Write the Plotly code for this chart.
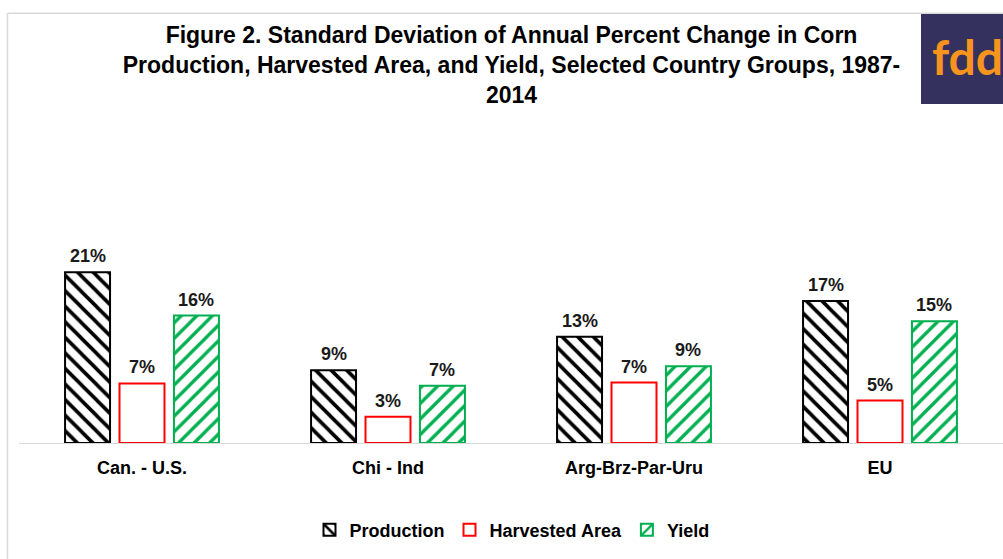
import plotly.graph_objects as go

categories = ["Can. - U.S.", "Chi - Ind", "Arg-Brz-Par-Uru", "EU"]
production = [20.9, 8.9, 13.0, 17.4]
harvested = [7.3, 3.2, 7.4, 5.2]
yield_vals = [15.6, 7.0, 9.4, 14.9]
series_names = ["Production", "Harvested Area", "Yield"]

W, H = 1003, 559
ML, MR, MT, MB = 19, 0, 197.5, 115.5
PW = W - ML - MR
PH = H - MT - MB
BARGAP = 0.336
BARGROUPGAP = 0.174

FONT = "Liberation Sans, Arial, sans-serif"

fig = go.Figure()
fig.add_trace(go.Bar(
    x=categories, y=production, name=series_names[0],
    marker=dict(color="white", line=dict(color="black", width=2),
                pattern=dict(shape="\\", fgcolor="black", bgcolor="white", fgopacity=1,
                             size=11, solidity=0.33)),
))
fig.add_trace(go.Bar(
    x=categories, y=harvested, name=series_names[1],
    marker=dict(color="white", line=dict(color="#FF0000", width=2)),
))
fig.add_trace(go.Bar(
    x=categories, y=yield_vals, name=series_names[2],
    marker=dict(color="white", line=dict(color="#00B050", width=2),
                pattern=dict(shape="/", fgcolor="#00B050", bgcolor="white", fgopacity=1,
                             size=11, solidity=0.3)),
))

# data labels
cat_px = PW / len(categories)
slot_px = cat_px * (1 - BARGAP) / 3
annotations = []
for si, vals in enumerate([production, harvested, yield_vals]):
    for c, v in zip(categories, vals):
        annotations.append(dict(
            x=c, y=v, xref="x", yref="y", text=f"{v:.0f}%", showarrow=False,
            xshift=(si - 1) * slot_px, yshift=4, yanchor="bottom",
            font=dict(family=FONT, size=18, color="#1a1a1a", weight="bold"),
        ))

def px2x(px):
    return (px - ML) / PW

def py2y(py):
    return (H - MB - py) / PH

# logo
annotations.append(dict(
    x=px2x(930), y=py2y(55), xref="paper", yref="paper", text="fdd", showarrow=False,
    xanchor="left", yanchor="middle",
    font=dict(family="Lato, Open Sans, sans-serif", size=48, color="#F7941D", weight="bold"),
))

shapes = [
    dict(type="rect", xref="paper", yref="paper", x0=px2x(921), x1=px2x(1010),
         y0=py2y(103), y1=py2y(12), fillcolor="#35315F", line=dict(width=0), layer="below"),
    dict(type="line", xref="paper", yref="paper", x0=px2x(7.5), x1=px2x(7.5),
         y0=py2y(12), y1=py2y(580), line=dict(color="#D9D9D9", width=1.5)),
    dict(type="line", xref="paper", yref="paper", x0=px2x(7.5), x1=px2x(1010),
         y0=py2y(12), y1=py2y(12), line=dict(color="#D9D9D9", width=1.5)),
]

fig.update_layout(
    width=W, height=H,
    margin=dict(l=ML, r=MR, t=MT, b=MB, pad=0),
    paper_bgcolor="white", plot_bgcolor="white",
    barmode="group", bargap=BARGAP, bargroupgap=BARGROUPGAP,
    title=dict(
        text="Figure 2. Standard Deviation of Annual Percent Change in Corn<br>"
             "Production, Harvested Area, and Yield, Selected Country Groups, 1987-<br>2014",
        x=0.51, xanchor="center", y=1 - 43 / H, yanchor="top", yref="container",
        font=dict(family="Liberation Sans Narrow, Arial Narrow, " + FONT, size=23,
                  color="#000000", weight="bold"),
    ),
    xaxis=dict(
        range=[-0.5, 3.5], showline=True, linecolor="#D9D9D9", linewidth=1,
        showgrid=False, ticks="", zeroline=False, ticklabelstandoff=8,
        tickfont=dict(family=FONT, size=18, color="#000000", weight="bold"),
    ),
    yaxis=dict(range=[0, 30], visible=False, showgrid=False, zeroline=False),
    legend=dict(
        orientation="h", x=px2x(512), xanchor="center", y=py2y(531), yanchor="middle",
        font=dict(family=FONT, size=18, color="#000000", weight="bold"),
        itemwidth=30, bgcolor="rgba(0,0,0,0)",
    ),
    annotations=annotations,
    shapes=shapes,
)

fig.write_html(
    "out.html",
    config={"displayModeBar": False},
    post_script="document.body.style.margin='0';document.body.style.overflow='hidden';",
)
